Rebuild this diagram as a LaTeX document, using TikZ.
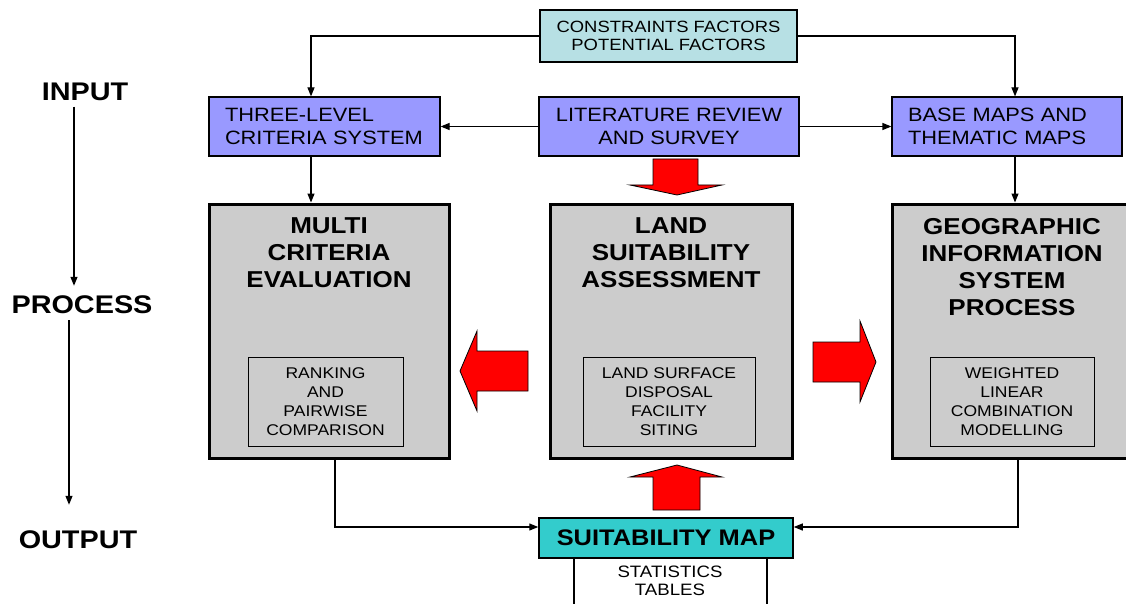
\documentclass[tikz,border=0pt]{standalone}
\usepackage{fontspec}
\setmainfont{Liberation Sans}[FakeStretch=1.13]
\usepackage{xcolor}
\usetikzlibrary{positioning, arrows.meta}

\definecolor{factcol}{RGB}{183,224,228}
\definecolor{inputcol}{RGB}{153,153,255}
\definecolor{procgray}{RGB}{204,204,204}
\definecolor{mapcol}{RGB}{51,204,204}

\tikzset{
    factbox/.style={draw=black, line width=1.2pt, fill=factcol, minimum height=52pt, inner sep=0pt, align=center, font=\fontsize{16.3}{17.3}\selectfont},
    inbox/.style={draw=black, line width=1.2pt, fill=inputcol, minimum height=59pt, inner sep=0pt, font=\fontsize{19.3}{23}\selectfont},
    procbox/.style={draw=black, line width=3pt, fill=procgray, minimum height=254pt},
    proctitle/.style={inner sep=0pt, align=center, font=\fontsize{23}{27}\selectfont\bfseries},
    subbox/.style={draw=black, line width=0.9pt, minimum height=89pt, inner sep=0pt, align=center, font=\fontsize{15.5}{19}\selectfont},
    mapbox/.style={draw=black, line width=1.5pt, fill=mapcol, minimum height=40pt, inner sep=0pt, font=\fontsize{22.5}{26}\selectfont\bfseries},
    stage/.style={inner sep=6pt, font=\fontsize{25.5}{30}\selectfont\bfseries},
    conn/.style={line width=1.2pt, -{Triangle[length=9pt,width=7pt]}},
    blockarrow/.style={draw=black, line width=0.8pt, fill=red, line join=miter}
}

\begin{document}
\begin{tikzpicture}[x=1pt, y=-1pt]
    \useasboundingbox (0,0) rectangle (1126,604);
    \clip (0,0) rectangle (1126,604);

    % stages
    \node[stage] (input) at (85,91.5) {INPUT};
    \node[stage] (process) at (82,305) {PROCESS};
    \node[stage] (output) at (78,540) {OUTPUT};
    \coordinate (ax1) at (74,0);
    \coordinate (ax2) at (69,0);
    \draw[conn, shorten >=4pt] (input.south -| ax1) -- (process.north -| ax1);
    \draw[conn, shorten >=20pt] (process.south -| ax2) -- (output.north -| ax2);

    % input boxes
    \node[factbox, minimum width=257pt] (fact) at (668.5,36) {CONSTRAINTS FACTORS\\POTENTIAL FACTORS};
    \node[inbox, minimum width=231pt, text width=199pt, align=left] (three) at (324.5,126.5) {THREE-LEVEL\\CRITERIA SYSTEM};
    \node[inbox, minimum width=260pt, align=center] (lit) at (669,126.5) {LITERATURE REVIEW\\AND SURVEY};
    \node[inbox, minimum width=230pt, text width=198pt, align=left] (base) at (1007,126.5) {BASE MAPS AND\\THEMATIC MAPS};

    % process boxes
    \node[procbox, minimum width=240pt] (mce) at (329,331) {};
    \node[procbox, minimum width=242pt] (lsa) at (671,331) {};
    \node[procbox, minimum width=240pt] (gis) at (1012,331) {};
    \node[proctitle, below=15pt of mce.north] (mcet) {MULTI\\CRITERIA\\EVALUATION};
    \node[proctitle, below=15pt of lsa.north] (lsat) {LAND\\SUITABILITY\\ASSESSMENT};
    \node[proctitle, below=16pt of gis.north] (gist) {GEOGRAPHIC\\INFORMATION\\SYSTEM\\PROCESS};
    \node[subbox, minimum width=155pt] (rank) at (325.5,401.5) {RANKING\\AND\\PAIRWISE\\COMPARISON};
    \node[subbox, minimum width=172pt] (surf) at (669,401.5) {LAND SURFACE\\DISPOSAL\\FACILITY\\SITING};
    \node[subbox, minimum width=164pt] (wlc) at (1012,401.5) {WEIGHTED\\LINEAR\\COMBINATION\\MODELLING};

    % output
    \node[mapbox, minimum width=254pt] (suit) at (666,538) {SUITABILITY MAP};
    \node[align=center, inner sep=0pt, font=\fontsize{16.5}{18}\selectfont] (stats) at (670,581) {STATISTICS\\TABLES};
    \coordinate (stl) at (574,610);
    \coordinate (str) at (767,610);
    \draw[line width=1.5pt] (suit.south -| stl) -- (stl);
    \draw[line width=1.5pt] (suit.south -| str) -- (str);

    % connectors
    \coordinate (tx) at (311,0);
    \coordinate (bx) at (1015,0);
    \coordinate (mx) at (335,0);
    \coordinate (gx) at (1018,0);
    \coordinate (sy) at (0,527);
    \draw[conn] (fact.west) -| (three.north -| tx);
    \draw[conn] (fact.east) -| (base.north -| bx);
    \draw[conn] (lit.west) -- (three.east);
    \draw[conn] (lit.east) -- (base.west);
    \draw[conn] (three.south -| tx) -- (mce.north -| tx);
    \draw[conn] (base.south -| bx) -- (gis.north -| bx);
    \draw[conn] (mce.south -| mx) |- (suit.west |- sy);
    \draw[conn] (gis.south -| gx) |- (suit.east |- sy);

    % block arrows
    \draw[blockarrow] (653,159) -- (698,159) -- (698,185) -- (722,185) -- (677,195) -- (630,185) -- (653,185) -- cycle;
    \draw[blockarrow] (653,510) -- (700,510) -- (700,477) -- (722,477) -- (677,465) -- (630,477) -- (653,477) -- cycle;
    \draw[blockarrow] (528,351) -- (528,391) -- (477,391) -- (477,411) -- (460,371) -- (477,331) -- (477,351) -- cycle;
    \draw[blockarrow] (813,342) -- (860,342) -- (860,321) -- (876,362) -- (860,402) -- (860,382) -- (813,382) -- cycle;
\end{tikzpicture}
\end{document}
